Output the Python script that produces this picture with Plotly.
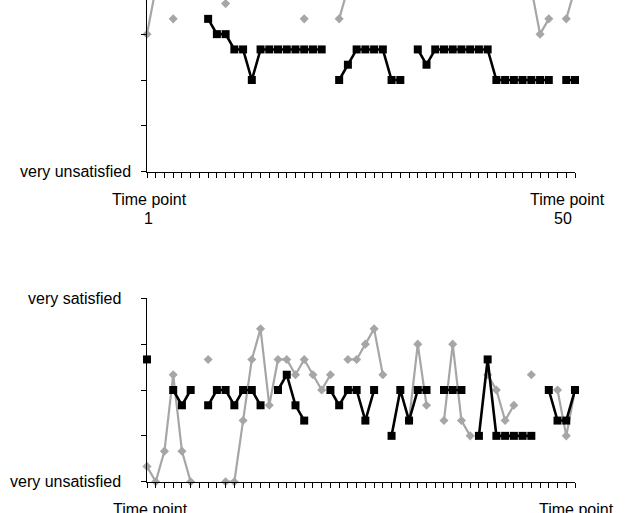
import plotly.graph_objects as go

# ---------------- data ----------------
time_points = list(range(1, 51))
N = None

# Top panel (partly cut off at the top of the picture)
top_black = [N, N, N, N, N, N, N, 10, 9, 9,
             8, 8, 6, 8, 8, 8, 8, 8, 8, 8,
             8, N, 6, 7, 8, 8, 8, 8, 6, 6,
             N, 8, 7, 8, 8, 8, 8, 8, 8, 8,
             6, 6, 6, 6, 6, 6, 6, N, 6, 6]
top_gray = [9, 12, N, 10, N, N, N, N, N, 11,
            N, N, N, N, N, N, N, N, 10, N,
            N, N, 10, 12, N, N, N, N, N, N,
            N, N, N, N, N, N, N, N, N, N,
            N, N, N, N, 12, 9, 10, N, 10, 12]

# Bottom panel
bot_black = [8, N, N, 6, 5, 6, N, 5, 6, 6,
             5, 6, 6, 5, N, 6, 7, 5, 4, N,
             N, 6, 5, 6, 6, 4, 6, N, 3, 6,
             4, 6, 6, N, 6, 6, 6, N, 3, 8,
             3, 3, 3, 3, 3, N, 6, 4, 4, 6]
bot_gray = [1, 0, 2, 7, 2, 0, N, 8, N, 0,
            0, 4, 8, 10, 5, 8, 8, 7, 8, 7,
            6, 7, N, 8, 8, 9, 10, 7, N, N,
            4, 9, 5, N, 4, 9, 4, 3, N, 7,
            6, 4, 5, N, 7, N, N, 6, 3, 6]

y_ticks = [0, 3, 6, 9, 12]
label_low = "very unsatisfied"
label_high = "very satisfied"
x_label = "Time point"
first_label = "1"
last_label = "50"

# ---------------- geometry ----------------
W, H = 634, 513
ML, MR = 147, 59
PW = W - ML - MR
unit_px = (481.7 - 298.3) / 12.0


def px_x(px):
    return (px - ML) / PW


def px_y(py):
    return (H - py) / H


GRAY = "#A6A6A6"
FONT = "Liberation Sans, Arial, sans-serif"

fig = go.Figure()


def add_pair(gray, black, xa, ya):
    fig.add_trace(go.Scatter(
        x=time_points, y=gray, xaxis=xa, yaxis=ya, mode="lines+markers",
        line=dict(color=GRAY, width=2.2),
        marker=dict(symbol="diamond", size=7, color=GRAY),
        connectgaps=False, cliponaxis=False, showlegend=False))
    fig.add_trace(go.Scatter(
        x=time_points, y=black, xaxis=xa, yaxis=ya, mode="lines+markers",
        line=dict(color="black", width=2.6),
        marker=dict(symbol="square", size=8, color="black"),
        connectgaps=False, cliponaxis=False, showlegend=False))


add_pair(top_gray, top_black, "x", "y")
add_pair(bot_gray, bot_black, "x2", "y2")

xcommon = dict(range=[1, 50], tickmode="linear", tick0=1, dtick=1,
               ticks="outside", ticklen=5, tickwidth=1.2, tickcolor="black",
               showticklabels=False, showgrid=False, zeroline=False,
               showline=True, linecolor="black", linewidth=1.4)
ycommon = dict(tickmode="array", tickvals=y_ticks, ticks="outside",
               ticklen=5, tickwidth=1.2, tickcolor="black",
               showticklabels=False, showgrid=False, zeroline=False,
               showline=True, linecolor="black", linewidth=1.4)

top_y0 = px_y(171.7)
bot_y0 = px_y(481.7)
bot_y1 = px_y(298.3)

fig.update_layout(
    width=W, height=H,
    margin=dict(l=ML, r=MR, t=0, b=0, pad=0),
    paper_bgcolor="white", plot_bgcolor="white",
    font=dict(family=FONT, size=16, color="black"),
    xaxis=dict(domain=[0, 1], anchor="y", **xcommon),
    yaxis=dict(domain=[top_y0, 1], anchor="x", range=[0, 171.7 / unit_px], **ycommon),
    xaxis2=dict(domain=[0, 1], anchor="y2", **xcommon),
    yaxis2=dict(domain=[bot_y0, bot_y1], anchor="x2", range=[0, 12], **ycommon),
)

ann = []


def text(t, px, py, xanchor="center"):
    ann.append(dict(text=t, x=px_x(px), y=px_y(py), xref="paper", yref="paper",
                    xanchor=xanchor, yanchor="middle", showarrow=False,
                    font=dict(family=FONT, size=16, color="black")))


text(label_low, 133, 171.7, "right")
text(label_high, 123, 298.3, "right")
text(label_low, 123, 481.7, "right")
text(x_label, 149.5, 199)
text(first_label, 148.5, 218)
text(x_label, 567, 199)
text(last_label, 563, 218)
text(x_label, 150, 509)
text(x_label, 576.5, 509)

fig.update_layout(annotations=ann)

fig.write_html(
    "out.html",
    config={"displayModeBar": False},
    post_script="document.body.style.margin='0';document.body.style.overflow='hidden';",
)
